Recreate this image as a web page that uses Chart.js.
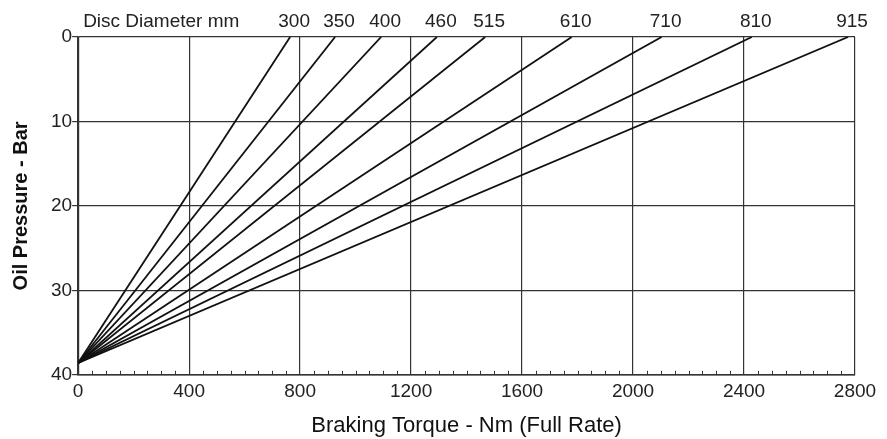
<!DOCTYPE html>
<html>
<head>
<meta charset="utf-8">
<script src="https://cdn.jsdelivr.net/npm/chart.js@4/dist/chart.umd.min.js"></script>
<style>
    html, body { margin: 0; padding: 0; background: #fff; }
    #wrap { width: 887px; height: 439px; position: relative; }
</style>
</head>
<body>
<div id="wrap"><canvas id="brakeChart"></canvas></div>
<script>
// 盘径 (mm) 及每条线在 0 bar 处对应的扭矩 (Nm)
const discDiameters = [300, 350, 400, 460, 515, 610, 710, 810, 915];
const torqueAtZero = [764, 926, 1092, 1293, 1467, 1779, 2103, 2428, 2775];
// 所有线在 0 Nm 处汇合的压力 (bar)
const startPressure = 38.6;
const xTicks = [0, 400, 800, 1200, 1600, 2000, 2400, 2800];
const yTicks = [0, 10, 20, 30, 40];

const datasets = discDiameters.map((d, i) => ({
    label: d + ' mm',
    data: [{ x: 0, y: startPressure }, { x: torqueAtZero[i], y: 0 }],
    borderColor: '#111',
    borderWidth: 1.8,
    pointRadius: 0,
    fill: false
}));

// 顶部盘径标签 + 底部小刻度
const labelPlugin = {
    id: 'discLabels',
    afterDraw(chart) {
        const ctx = chart.ctx;
        const xs = chart.scales.x;
        const area = chart.chartArea;
        ctx.save();
        ctx.fillStyle = '#222';
        ctx.font = '19px "Liberation Sans", Arial, sans-serif';
        ctx.textBaseline = 'middle';
        ctx.textAlign = 'left';
        ctx.fillText('Disc Diameter mm', area.left + 5, 22);
        ctx.textAlign = 'center';
        discDiameters.forEach((d, i) => {
            ctx.fillText(String(d), xs.getPixelForValue(torqueAtZero[i]) + 4, 22);
        });

        // 小刻度 (每 50 Nm)
        ctx.strokeStyle = '#333';
        ctx.lineWidth = 1;
        ctx.beginPath();
        for (let v = 50; v < 2800; v += 50) {
            if (v % 400 === 0) continue;
            const px = Math.round(xs.getPixelForValue(v)) + 0.5;
            ctx.moveTo(px, area.bottom);
            ctx.lineTo(px, area.bottom - 4);
        }
        ctx.stroke();
        ctx.restore();
    }
};

document.addEventListener('DOMContentLoaded', function() {
    Chart.defaults.font.family = '"Liberation Sans", Arial, sans-serif';
    Chart.defaults.color = '#222';

    new Chart(document.getElementById('brakeChart'), {
        type: 'line',
        data: { datasets: datasets },
        options: {
            responsive: true,
            maintainAspectRatio: false,
            animation: false,
            layout: {
                padding: { top: 37, right: 32, left: 9, bottom: 0 }
            },
            plugins: {
                legend: { display: false },
                tooltip: { enabled: false }
            },
            scales: {
                x: {
                    type: 'linear',
                    min: 0,
                    max: 2800,
                    afterBuildTicks: (scale) => { scale.ticks = xTicks.map(v => ({ value: v })); },
                    ticks: {
                        font: { size: 19 },
                        color: '#222',
                        padding: 6,
                        maxRotation: 0,
                        callback: (v) => String(v)
                    },
                    grid: {
                        color: '#333',
                        lineWidth: 1.2,
                        drawTicks: false
                    },
                    border: { color: '#333', width: 1.5 },
                    title: {
                        display: true,
                        text: 'Braking Torque - Nm (Full Rate)',
                        font: { size: 22 },
                        color: '#111',
                        padding: { top: 3, bottom: 0 }
                    }
                },
                y: {
                    type: 'linear',
                    reverse: true,
                    min: 0,
                    max: 40,
                    afterBuildTicks: (scale) => { scale.ticks = yTicks.map(v => ({ value: v })); },
                    ticks: {
                        font: { size: 19 },
                        color: '#222',
                        padding: 0
                    },
                    grid: {
                        color: '#333',
                        lineWidth: 1.2,
                        tickLength: 6
                    },
                    border: { color: '#333', width: 1.5 },
                    title: {
                        display: true,
                        text: 'Oil Pressure - Bar',
                        font: { size: 20, weight: 'bold' },
                        color: '#111',
                        padding: { top: 0, bottom: 18 }
                    }
                }
            }
        },
        plugins: [labelPlugin]
    });
});
</script>
</body>
</html>
